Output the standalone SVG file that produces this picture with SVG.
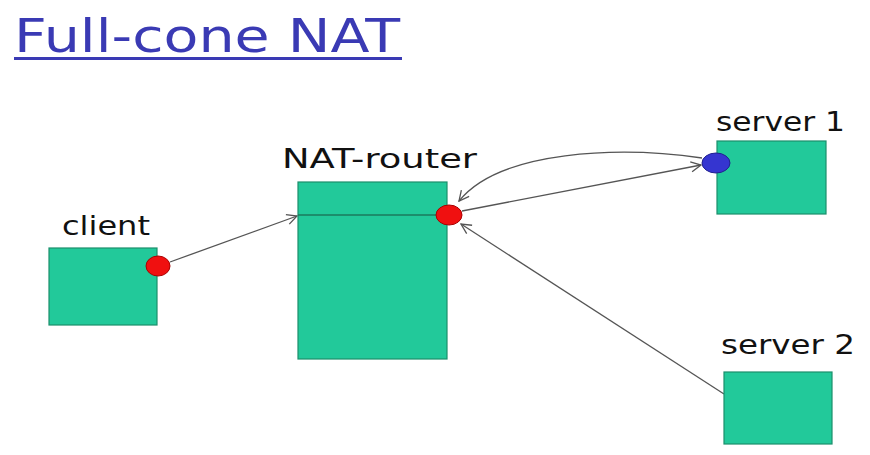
<svg xmlns="http://www.w3.org/2000/svg" width="870" height="455" viewBox="0 0 870 455">
<defs>
<style>
.box{fill:#22c99a;stroke:#1b8f6c;stroke-width:1.2}
.lbl{font-family:"DejaVu Sans",sans-serif;font-size:26px;fill:#111}
.conn{fill:none;stroke:#555;stroke-width:1.3;marker-end:url(#arr)}
.red{fill:#f01010;stroke:#a00;stroke-width:1}
.blue{fill:#3535d0;stroke:#202090;stroke-width:1}
</style>
<marker id="arr" viewBox="0 0 12 12" refX="11" refY="6" markerWidth="12" markerHeight="12" markerUnits="userSpaceOnUse" orient="auto">
<path d="M1,1 L11,6 L1,11" fill="none" stroke="#555" stroke-width="1.3"/>
</marker>
</defs>
<rect width="870" height="455" fill="#fff"/>
<g id="title">
<text x="14" y="52" font-family="DejaVu Sans,sans-serif" font-size="46" fill="#3a3ab4" textLength="386" lengthAdjust="spacingAndGlyphs">Full-cone NAT</text>
<rect x="14" y="57" width="388" height="3" fill="#3a3ab4"/>
</g>
<g id="connectors">
<line class="conn" x1="170" y1="262" x2="297" y2="216"/>
<line class="conn" x1="462" y1="211" x2="701" y2="165"/>
<path class="conn" d="M702,158 C620,146 500,150 459,201"/>
<line class="conn" x1="724" y1="394" x2="461" y2="224"/>
</g>
<g id="client">
<rect class="box" x="49" y="248" width="108" height="77"/>
<text class="lbl" x="62" y="235" textLength="88" lengthAdjust="spacingAndGlyphs">client</text>
<ellipse class="red" cx="158" cy="266" rx="12" ry="10"/>
</g>
<g id="nat-router">
<rect class="box" x="298" y="182" width="149" height="177"/>
<line x1="298" y1="215" x2="447" y2="215" stroke="#1b7a5c" stroke-width="1.3"/>
<text class="lbl" x="282" y="168" textLength="195" lengthAdjust="spacingAndGlyphs">NAT-router</text>
<ellipse class="red" cx="449" cy="215" rx="13" ry="10"/>
</g>
<g id="server1">
<rect class="box" x="717" y="141" width="109" height="73"/>
<text class="lbl" x="716" y="131" textLength="129" lengthAdjust="spacingAndGlyphs">server 1</text>
<ellipse class="blue" cx="716" cy="163" rx="14" ry="10"/>
</g>
<g id="server2">
<rect class="box" x="724" y="372" width="108" height="72"/>
<text class="lbl" x="721" y="354" textLength="134" lengthAdjust="spacingAndGlyphs">server 2</text>
</g>
</svg>
